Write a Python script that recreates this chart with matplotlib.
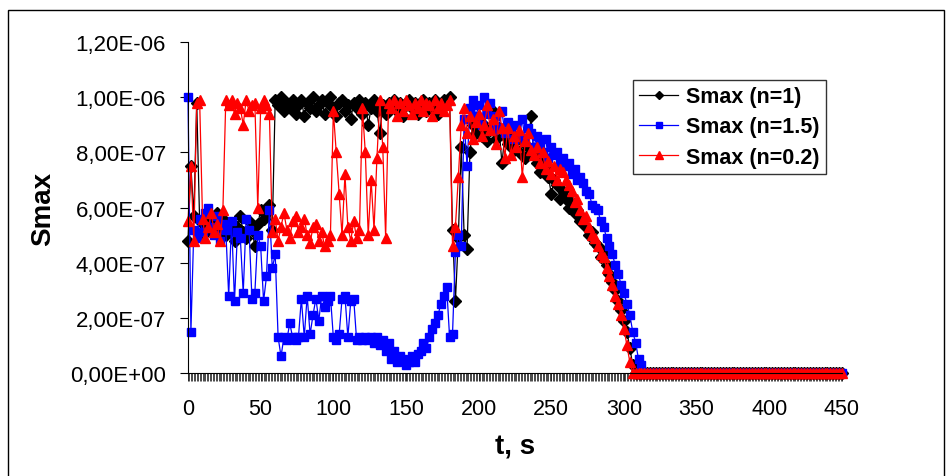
# Smax versus time for three values of n (Excel-style line chart)

import numpy as np
import matplotlib.pyplot as plt

plt.rcParams['font.family'] = ['Liberation Sans', 'DejaVu Sans']

# Data (Smax in units of 1e-7), one value every 2 s from t = 0 to t = 314 s
smax_n1 = [
    4.8, 7.5, 5.7, 9.8, 5.5, 5.0, 5.4, 5.6, 5.2, 5.5,      # 0-18
    5.8, 5.3, 5.6, 5.0, 5.1, 5.4, 4.8, 5.3, 5.7, 5.1,      # 20-38
    4.9, 5.5, 5.2, 4.6, 5.4, 5.9, 5.6, 5.8, 6.1, 5.2,      # 40-58
    9.9, 9.7, 10.0, 9.5, 9.8, 9.6, 9.9, 9.4, 9.7, 9.9,     # 60-78
    9.3, 9.8, 9.6, 10.0, 9.5, 9.7, 9.9, 9.4, 9.8, 10.0,    # 80-98
    9.6, 9.3, 9.8, 9.9, 9.5, 9.7, 9.2, 9.8, 9.6, 9.9,      # 100-118
    9.4, 9.8, 9.0, 9.6, 9.9, 9.5, 8.7, 9.7, 9.4, 9.8,      # 120-138
    9.6, 9.9, 9.5, 9.8, 9.3, 9.7, 9.9, 9.6, 9.8, 9.4,      # 140-158
    9.7, 9.9, 9.5, 9.8, 9.6, 9.9, 9.4, 9.7, 9.9, 9.8,      # 160-178
    10.0, 5.2, 2.6, 4.9, 8.2, 5.0, 4.5, 8.0, 9.0, 8.7,     # 180-198
    9.2, 8.6, 9.0, 8.4, 8.8, 9.5, 8.5, 8.9, 7.6, 8.6,      # 200-218
    8.3, 8.7, 8.1, 8.5, 8.0, 8.4, 7.8, 8.2, 9.3, 7.9,      # 220-238
    7.6, 7.3, 7.8, 7.4, 7.1, 6.5, 7.0, 6.8, 6.3, 6.6,      # 240-258
    6.3, 6.0, 6.2, 5.8, 5.9, 5.5, 5.6, 5.3, 5.0, 5.1,      # 260-278
    4.7, 4.6, 4.2, 4.4, 3.9, 3.6, 3.3, 3.0, 2.6, 2.3,      # 280-298
    1.9, 1.5, 0.9, 0.3, 0.0, 0.0, 0.0, 0.0,                # 300-314
]
smax_n15 = [
    10.0, 1.5, 5.2, 4.9, 5.6, 5.1, 5.8, 6.0, 5.3, 5.0,
    5.7, 4.8, 5.4, 5.2, 2.8, 5.5, 2.6, 5.1, 4.9, 2.9,
    5.6, 5.2, 2.7, 2.9, 5.0, 4.6, 2.6, 3.5, 5.9, 3.8,
    4.3, 1.3, 0.6, 1.3, 1.2, 1.8, 1.3, 1.2, 1.3, 2.7,
    1.3, 2.8, 1.4, 2.1, 2.7, 1.9, 2.8, 2.4, 2.6, 2.8,
    1.3, 1.2, 1.4, 2.7, 2.8, 1.3, 2.6, 2.7, 1.2, 1.3,
    1.2, 1.3, 1.2, 1.3, 1.1, 1.3, 1.0, 1.2, 0.8, 1.1,
    0.5, 0.8, 0.4, 0.6, 0.5, 0.3, 0.4, 0.6, 0.4, 0.7,
    0.8, 1.1, 0.9, 1.3, 1.6, 1.8, 2.1, 2.5, 2.8, 3.1,
    1.3, 1.4, 4.4, 5.0, 4.6, 9.2, 7.5, 9.6, 9.9, 9.3,
    9.7, 9.0, 10.0, 9.4, 9.8, 8.8, 9.3, 8.9, 9.5, 8.7,
    9.1, 8.9, 8.5, 9.0, 8.6, 9.2, 8.4, 8.9, 8.7, 8.2,
    8.6, 8.3, 8.0, 8.5, 7.8, 8.2, 7.9, 8.0, 7.6, 7.8,
    7.5, 7.6, 7.2, 7.4, 7.0, 7.1, 6.9, 6.6, 6.5, 6.1,
    6.0, 5.9, 5.5, 5.3, 4.9, 4.6, 4.3, 3.9, 3.6, 3.2,
    2.9, 2.5, 2.1, 1.5, 1.1, 0.5, 0.3, 0.0,
]
smax_n02 = [
    5.5, 7.5, 4.8, 9.8, 9.9, 5.6, 4.9, 5.3, 5.8, 5.1,
    5.4, 4.8, 5.9, 9.9, 9.7, 9.9, 9.4, 9.8, 9.6, 9.0,
    9.9, 9.5, 9.7, 9.8, 6.0, 9.6, 9.9, 9.7, 9.4, 5.1,
    5.6, 4.8, 5.3, 5.8, 5.2, 4.9, 5.5, 5.7, 5.1, 5.3,
    5.6, 5.0, 4.7, 5.3, 5.4, 4.8, 5.1, 4.6, 4.8, 5.0,
    9.5, 8.0, 6.5, 5.0, 7.2, 5.3, 4.8, 5.5, 4.9, 5.2,
    9.6, 8.0, 5.0, 7.0, 5.2, 7.8, 9.9, 8.2, 4.9, 9.8,
    9.6, 9.9, 9.3, 9.8, 9.5, 9.9, 9.7, 9.4, 9.8, 9.6,
    9.9, 9.5, 9.8, 9.7, 9.3, 9.9, 9.6, 9.8, 9.5, 9.7,
    9.9, 4.6, 5.3, 7.1, 9.0, 9.6, 8.7, 9.3, 8.5, 9.1,
    9.4, 8.6, 9.0, 9.7, 8.8, 9.2, 8.3, 9.5, 8.9, 7.8,
    8.9, 7.9, 8.6, 8.2, 8.8, 7.1, 8.4, 8.7, 8.1, 7.9,
    8.2, 7.6, 8.0, 7.4, 7.7, 7.2, 7.5, 7.0, 7.4, 7.3,
    7.0, 6.8, 6.6, 6.2, 6.3, 5.9, 5.6, 5.7, 5.3, 5.0,
    4.9, 4.6, 4.3, 4.2, 3.8, 3.5, 3.2, 2.8, 2.5, 2.1,
    1.6, 1.0, 0.4, 0.0, 0.0, 0.0, 0.0, 0.0,
]
# t = 316 ... 450 s: all three series stay at zero
zero_tail = [0.0] * 68

series_labels = ['Smax (n=1)', 'Smax (n=1.5)', 'Smax (n=0.2)']
x_ticks = [0, 50, 100, 150, 200, 250, 300, 350, 400, 450]
y_ticks = [0.0, 2e-7, 4e-7, 6e-7, 8e-7, 1e-6, 1.2e-6]
y_tick_labels = ['0,00E+00', '2,00E-07', '4,00E-07', '6,00E-07',
                 '8,00E-07', '1,00E-06', '1,20E-06']

t = np.arange(0, 451, 2)
s1 = np.array(smax_n1 + zero_tail) * 1e-7
s15 = np.array(smax_n15 + zero_tail) * 1e-7
s02 = np.array(smax_n02 + zero_tail) * 1e-7

fig = plt.figure(figsize=(9.53, 4.77), dpi=100)
ax = fig.add_axes([188/953, 1 - 374/477, (842 - 188)/953, (374 - 43)/477])

# Series (drawn in Excel order: black, blue, red on top)
ax.plot(t, s1, color='black', lw=0.9, marker='D', ms=6, clip_on=False,
        label=series_labels[0])
ax.plot(t, s15, color='#0000FF', lw=0.9, marker='s', ms=6, clip_on=False,
        label=series_labels[1])
ax.plot(t, s02, color='#FF0000', lw=0.9, marker='^', ms=7.5, clip_on=False,
        label=series_labels[2])

# Axes
ax.set_xlim(0, 450)
ax.set_ylim(0, 1.2e-6)
ax.spines['top'].set_visible(False)
ax.spines['right'].set_visible(False)
ax.set_xticks(x_ticks)
ax.set_xticklabels([str(v) for v in x_ticks], fontsize=15.5)
ax.set_xticks(np.arange(0, 451, 1), minor=True)
ax.tick_params(axis='x', which='major', length=6, width=0.6, pad=12)
ax.tick_params(axis='x', which='minor', length=6, width=0.5)
ax.set_yticks(y_ticks)
ax.set_yticklabels(y_tick_labels, fontsize=16)
ax.tick_params(axis='y', length=6, width=0.8, pad=10)

ax.set_xlabel('t, s', fontsize=20, fontweight='bold')
ax.xaxis.set_label_coords(0.5, (374 - 435) / 331)
ax.set_ylabel('Smax', fontsize=20, fontweight='bold')
ax.yaxis.set_label_coords((56 - 188) / 654, 0.5)

leg = ax.legend(loc='upper left', bbox_to_anchor=(633/953, 1 - 81/477),
                bbox_transform=fig.transFigure, borderaxespad=0,
                prop={'size': 15.5, 'weight': 'bold'}, fancybox=False,
                frameon=True, handlelength=1.8, handletextpad=0.35,
                labelspacing=0.42, borderpad=0.3, markerscale=0.7)
leg.get_frame().set_edgecolor('black')
leg.get_frame().set_linewidth(1.0)

# Outer chart border
fig.patches.append(plt.Rectangle((8/953, -0.1), (944 - 8)/953, 1.1 - 10.5/477,
                                 transform=fig.transFigure, fill=False,
                                 ec='black', lw=1.0))

fig.savefig('out.png', dpi=100)
